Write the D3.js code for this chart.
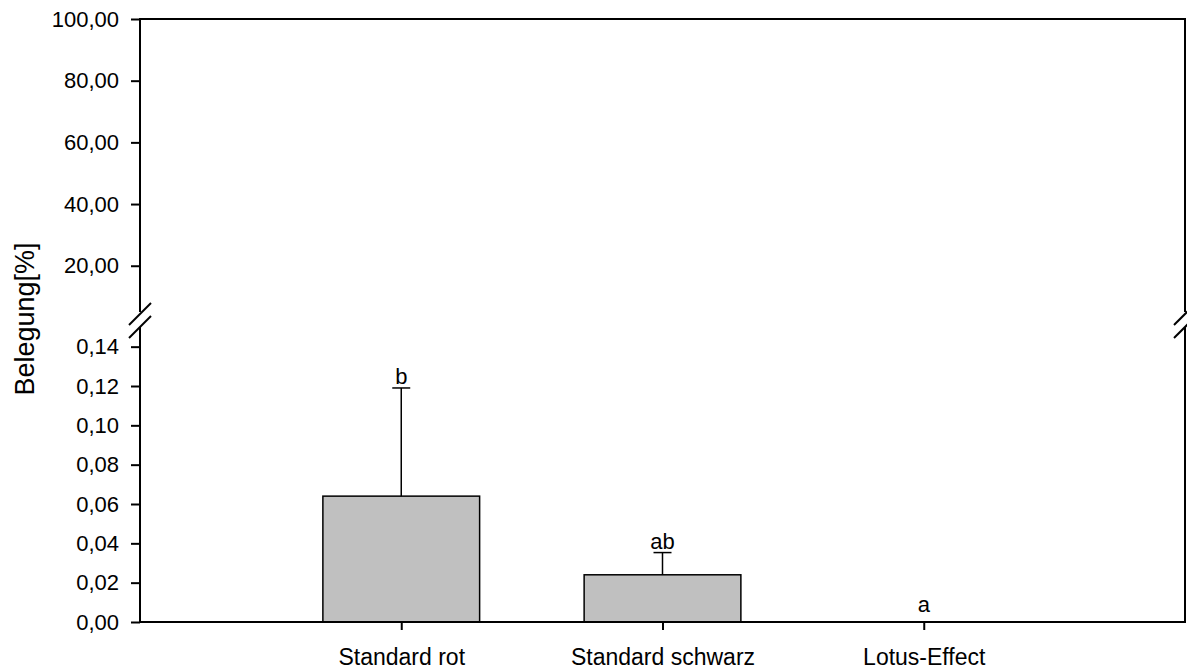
<!DOCTYPE html>
<html>
<head>
<meta charset="utf-8">
<script src="https://cdn.jsdelivr.net/npm/d3@7/dist/d3.min.js"></script>
<style>
  html, body { margin: 0; padding: 0; background: #fff; }
  svg { display: block; font-family: "Liberation Sans", Arial, sans-serif; }
</style>
</head>
<body>
<svg id="chart" width="1187" height="670"></svg>
<script>
// Data
const categories = ["Standard rot", "Standard schwarz", "Lotus-Effect"];
const means = [0.064, 0.024, 0.0];
const errors = [0.055, 0.0113, 0.0];
const letters = ["b", "ab", "a"];

// Axis ticks for the two segments of the broken y axis
const upperTicks = [20, 40, 60, 80, 100];
const lowerTicks = [0, 0.02, 0.04, 0.06, 0.08, 0.10, 0.12, 0.14];

const svg = d3.select("#chart");
const plotLeft = 140, plotRight = 1185, plotTop = 19, plotBottom = 622;
const lowerTop = 327, upperBottom = 312;

const x = d3.scalePoint().domain(categories).range([plotLeft, plotRight]).padding(1);
const yLow = d3.scaleLinear().domain([0, 0.15]).range([plotBottom, lowerTop]);
const yHigh = d3.scaleLinear().domain([5, 100]).range([upperBottom, plotTop]);
const fmt = v => d3.format(".2f")(v).replace(".", ",");

// Bars
const barW = x.step() * 0.6;
svg.append("g").selectAll("rect").data(categories).join("rect")
  .attr("x", d => x(d) - barW / 2)
  .attr("y", (d, i) => yLow(means[i]))
  .attr("width", barW)
  .attr("height", (d, i) => yLow(0) - yLow(means[i]))
  .attr("fill", "#c0c0c0")
  .attr("stroke", "#000")
  .attr("stroke-width", 1.5);

// Error bars (upper half only)
const eb = svg.append("g").attr("stroke", "#000").attr("stroke-width", 1.5);
categories.forEach((c, i) => {
  if (errors[i] <= 0) return;
  const cx = x(c), y0 = yLow(means[i]), y1 = yLow(means[i] + errors[i]);
  eb.append("line").attr("x1", cx).attr("x2", cx).attr("y1", y0).attr("y2", y1);
  eb.append("line").attr("x1", cx - 9).attr("x2", cx + 9).attr("y1", y1).attr("y2", y1);
});

// Significance letters
svg.append("g").selectAll("text").data(categories).join("text")
  .attr("x", d => x(d))
  .attr("y", (d, i) => Math.min(yLow(means[i] + errors[i]) - 4, yLow(0) - 10))
  .attr("text-anchor", "middle")
  .attr("font-size", 22)
  .text((d, i) => letters[i]);

// Frame with break in the vertical sides
const frame = svg.append("g").attr("stroke", "#000").attr("stroke-width", 2).attr("fill", "none");
frame.append("path").attr("d", `M${plotLeft},${upperBottom}V${plotTop}H${plotRight}V${upperBottom}`);
frame.append("path").attr("d", `M${plotLeft},${lowerTop}V${plotBottom}H${plotRight}V${lowerTop}`);

// Break marks
const brk = svg.append("g").attr("stroke", "#000").attr("stroke-width", 2);
[plotLeft, plotRight].forEach(bx => {
  [upperBottom + 2, lowerTop].forEach(by => {
    brk.append("line")
      .attr("x1", bx - 11).attr("y1", by + 11)
      .attr("x2", bx + 11).attr("y2", by - 11);
  });
});

// Y axes
function styleAxis(g) {
  g.select(".domain").remove();
  g.selectAll(".tick line").attr("stroke", "#000").attr("stroke-width", 2);
  g.selectAll(".tick text").attr("font-size", 22).attr("fill", "#000")
    .attr("font-family", "Liberation Sans, Arial, sans-serif");
}
svg.append("g").attr("transform", `translate(${plotLeft},0)`)
  .call(d3.axisLeft(yHigh).tickValues(upperTicks).tickFormat(fmt).tickSize(9).tickPadding(12))
  .call(styleAxis);
svg.append("g").attr("transform", `translate(${plotLeft},0)`)
  .call(d3.axisLeft(yLow).tickValues(lowerTicks).tickFormat(fmt).tickSize(9).tickPadding(12))
  .call(styleAxis);

// X axis
const xg = svg.append("g").attr("transform", `translate(0,${plotBottom})`)
  .call(d3.axisBottom(x).tickSize(8).tickPadding(19));
xg.select(".domain").remove();
xg.selectAll(".tick line").attr("stroke", "#000").attr("stroke-width", 2);
xg.selectAll(".tick text").attr("font-size", 23).attr("fill", "#000")
  .attr("font-family", "Liberation Sans, Arial, sans-serif");

// Y axis title
svg.append("text")
  .attr("transform", `translate(34,319) rotate(-90)`)
  .attr("text-anchor", "middle")
  .attr("font-size", 27)
  .text("Belegung[%]");
</script>
</body>
</html>
